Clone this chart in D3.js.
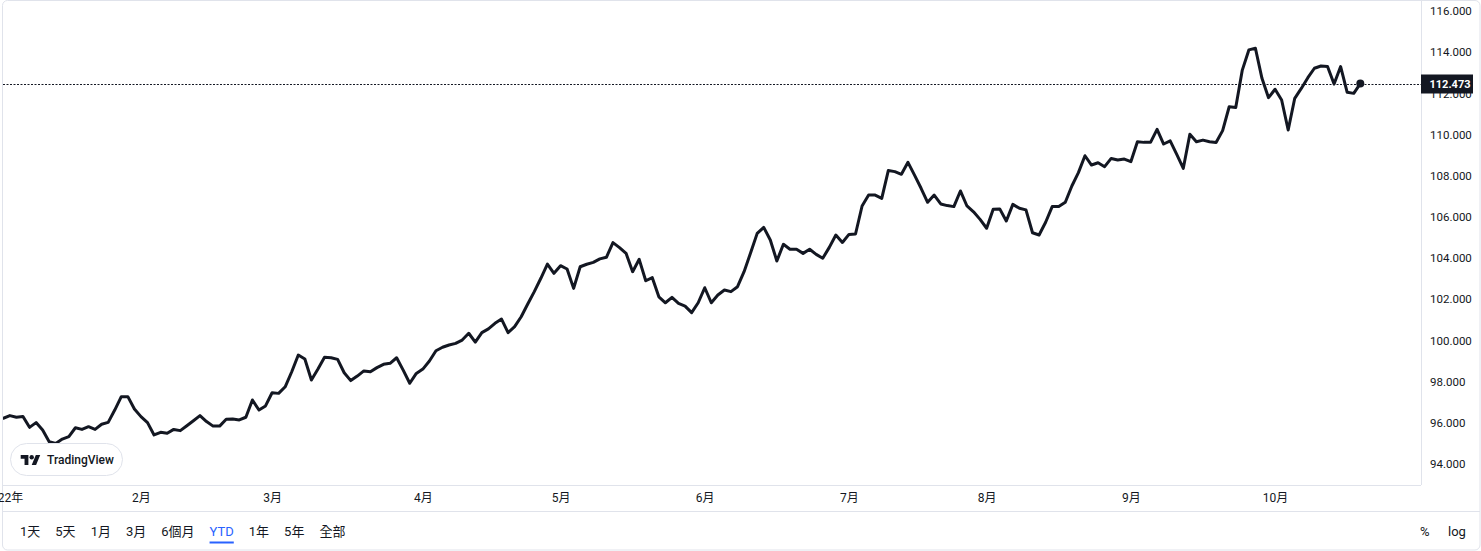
<!DOCTYPE html>
<html>
<head>
<meta charset="utf-8">
<script src="https://cdn.jsdelivr.net/npm/d3@7"></script>
<style>
  body { margin: 0; background: #fff; }
  svg { display: block; font-family: Roboto, "Noto Sans CJK TC", sans-serif; }
</style>
</head>
<body>
<div id="chart"></div>
<script>
// daily closes, YTD (one value per bar)
const closes = [
  96.22, 96.35, 96.27, 96.31, 95.78, 96.01, 95.65, 95.08, 95.00, 95.21,
  95.33, 95.76, 95.68, 95.81, 95.68, 95.93, 96.02, 96.62, 97.27, 97.27,
  96.67, 96.30, 96.01, 95.41, 95.54, 95.49, 95.68, 95.62, 95.86, 96.10,
  96.35, 96.06, 95.84, 95.84, 96.17, 96.18, 96.14, 96.27, 97.11, 96.62,
  96.82, 97.46, 97.43, 97.75, 98.48, 99.29, 99.10, 98.08, 98.61, 99.18,
  99.16, 99.08, 98.43, 98.05, 98.27, 98.52, 98.48, 98.68, 98.84, 98.89,
  99.16, 98.56, 97.92, 98.40, 98.61, 99.00, 99.50, 99.67, 99.78, 99.86,
  100.02, 100.35, 99.92,
  100.38, 100.56, 100.83, 101.04, 100.38, 100.67, 101.15, 101.77, 102.37, 103.02,
  103.71, 103.26, 103.63, 103.47, 102.53, 103.58, 103.70, 103.79, 103.96, 104.04,
  104.75, 104.51, 104.23, 103.34, 103.94, 102.90, 103.05, 102.12, 101.83, 102.09,
  101.80, 101.67, 101.35, 101.83, 102.56, 101.83, 102.21, 102.45, 102.37, 102.61,
  103.34, 104.26, 105.20, 105.49, 104.88, 103.86, 104.67, 104.43, 104.43, 104.23,
  104.43, 104.18, 103.99, 104.52, 105.12, 104.76, 105.15, 105.17,
  106.53, 107.06, 107.06, 106.90, 108.25, 108.20, 108.07, 108.65, 108.03, 107.39,
  106.71, 107.06, 106.63, 106.55, 106.50, 107.26, 106.53, 106.25, 105.88, 105.45,
  106.37, 106.39, 105.80, 106.61, 106.42, 106.34, 105.23, 105.12, 105.74, 106.50,
  106.50, 106.71, 107.50, 108.15, 108.97, 108.52, 108.63, 108.44, 108.84, 108.76,
  108.81, 108.68, 109.65, 109.62, 109.62, 110.25, 109.54, 109.69, 109.04, 108.36,
  110.01, 109.65, 109.73, 109.65, 109.61,
  110.19, 111.35, 111.31, 113.13, 114.11, 114.19, 112.73, 111.79, 112.20, 111.68,
  110.22, 111.76, 112.24, 112.76, 113.22, 113.33, 113.30, 112.45, 113.30, 112.05,
  112.00, 112.473
];
const lastPrice = 112.473;

const priceTicks = [94, 96, 98, 100, 102, 104, 106, 108, 110, 112, 114, 116];
const monthLabels = ["2022年", "2月", "3月", "4月", "5月", "6月", "7月", "8月", "9月", "10月"];
const monthBars = [0, 21, 41, 64, 85, 107, 129, 150, 172, 194];
const ranges = ["1天", "5天", "1月", "3月", "6個月", "YTD", "1年", "5年", "全部"];
const activeRange = "YTD";

const width = 1481, height = 551;
const paneRight = 1421, paneBottom = 485, axisBottom = 511;
const ink = "#131722", border = "#e0e3eb";

const svg = d3.select("#chart").append("svg")
    .attr("width", width)
    .attr("height", height);

const x = d3.scaleLinear()
    .domain([0, closes.length - 1])
    .range([3.3, 1360.3]);
const y = d3.scaleLinear()
    .domain([94, 116])
    .range([464, 11]);

// frame
svg.append("rect")
    .attr("x", 2.5).attr("y", 0.5)
    .attr("width", width - 3.5).attr("height", height - 1.5)
    .attr("rx", 5)
    .attr("fill", "#fff")
    .attr("stroke", border);
svg.append("line")
    .attr("x1", 3).attr("x2", width - 1)
    .attr("y1", axisBottom + 0.5).attr("y2", axisBottom + 0.5)
    .attr("stroke", border);
svg.append("line")
    .attr("x1", 3).attr("x2", paneRight)
    .attr("y1", paneBottom + 0.5).attr("y2", paneBottom + 0.5)
    .attr("stroke", border);
svg.append("line")
    .attr("x1", paneRight + 0.5).attr("x2", paneRight + 0.5)
    .attr("y1", 0).attr("y2", paneBottom)
    .attr("stroke", border);

// price axis
const yAxis = d3.axisRight(y)
    .tickValues(priceTicks)
    .tickFormat(d3.format(".3f"))
    .tickSize(0)
    .tickPadding(9);
const yAxisG = svg.append("g")
    .attr("transform", `translate(${paneRight}, 0)`)
    .call(yAxis);
yAxisG.select(".domain").remove();
yAxisG.selectAll("text")
    .attr("fill", ink)
    .style("font-size", "11.5px")
    .style("font-family", "Roboto, sans-serif");

// time axis
const xAxis = d3.axisBottom(x)
    .tickValues(monthBars)
    .tickFormat((d, i) => monthLabels[i])
    .tickSize(0)
    .tickPadding(8);
const xAxisG = svg.append("g")
    .attr("transform", `translate(0, ${paneBottom})`)
    .call(xAxis);
xAxisG.select(".domain").remove();
xAxisG.selectAll("text")
    .attr("fill", ink)
    .style("font-size", "12px")
    .style("font-family", "Roboto, 'Noto Sans CJK TC', sans-serif");

// chart pane
const pane = svg.append("g");
pane.append("clipPath").attr("id", "paneClip")
  .append("rect")
    .attr("x", 3).attr("y", 0)
    .attr("width", paneRight - 3).attr("height", paneBottom);

const plot = pane.append("g").attr("clip-path", "url(#paneClip)");

plot.append("line")
    .attr("x1", 3).attr("x2", paneRight)
    .attr("y1", Math.round(y(lastPrice)) + 0.5).attr("y2", Math.round(y(lastPrice)) + 0.5)
    .attr("stroke", ink)
    .attr("stroke-width", 1)
    .attr("stroke-dasharray", "2,1.5");

const line = d3.line()
    .x((d, i) => x(i))
    .y((d) => y(d));

plot.append("path")
    .datum(closes)
    .attr("d", line)
    .attr("fill", "none")
    .attr("stroke", ink)
    .attr("stroke-width", 3)
    .attr("stroke-linejoin", "round")
    .attr("stroke-linecap", "round");

plot.append("circle")
    .attr("cx", x(closes.length - 1))
    .attr("cy", y(lastPrice))
    .attr("r", 4)
    .attr("fill", ink);

// last price label (covers the 112.000 tick like the original)
const priceTag = svg.append("g")
    .attr("transform", `translate(${paneRight}, ${Math.round(y(lastPrice))})`);
priceTag.append("rect")
    .attr("x", 0).attr("y", -9.5)
    .attr("width", 52).attr("height", 19)
    .attr("fill", ink);
priceTag.append("text")
    .attr("x", 8.5).attr("y", 0)
    .attr("dy", "0.35em")
    .attr("fill", "#fff")
    .style("font-size", "11px")
    .style("font-weight", "bold")
    .text(d3.format(".3f")(lastPrice));

// watermark
const logo = svg.append("g");
logo.append("rect")
    .attr("x", 10.5).attr("y", 443.5)
    .attr("width", 112).attr("height", 32)
    .attr("rx", 16)
    .attr("fill", "#fff")
    .attr("stroke", border);
logo.append("g")
    .attr("transform", "translate(20.7, 452.8) scale(0.55)")
    .attr("fill", ink)
    .call((g) => {
      g.append("path").attr("d", "M14 22H7V11H0V4h14v18zM28 22h-8l7.5-18h8L28 22z");
      g.append("circle").attr("cx", 20).attr("cy", 8).attr("r", 4);
    });
logo.append("text")
    .attr("x", 47).attr("y", 460)
    .attr("dy", "0.35em")
    .attr("fill", ink)
    .style("font-size", "12px")
    .style("font-weight", 500)
    .text("TradingView");

// range toolbar
const bar = svg.append("g");
let cursor = 20;
ranges.forEach((r) => {
  const t = bar.append("text")
      .attr("x", cursor).attr("y", 531)
      .attr("dy", "0.35em")
      .attr("fill", r === activeRange ? "#2962ff" : ink)
      .style("font-size", "13px")
      .text(r);
  const w = t.node().getComputedTextLength();
  if (r === activeRange) {
    bar.append("rect")
        .attr("x", cursor).attr("y", 541.5)
        .attr("width", w).attr("height", 2)
        .attr("fill", "#2962ff");
  }
  cursor += w + 15;
});
bar.append("text")
    .attr("x", 1420).attr("y", 531).attr("dy", "0.35em")
    .attr("fill", ink).style("font-size", "13px")
    .text("%");
bar.append("text")
    .attr("x", 1448).attr("y", 531).attr("dy", "0.35em")
    .attr("fill", ink).style("font-size", "13px")
    .text("log");
</script>
</body>
</html>
